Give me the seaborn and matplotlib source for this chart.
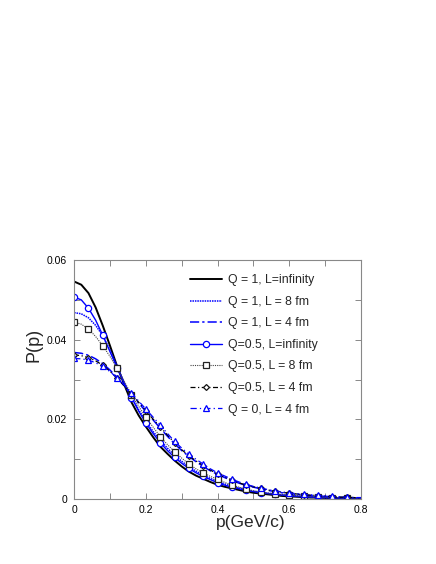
import matplotlib
matplotlib.use("Agg")
import matplotlib.pyplot as plt
import seaborn as sns
import pandas as pd
from matplotlib.ticker import MultipleLocator

# momentum grid (GeV/c)
p = [0.00, 0.02, 0.04, 0.06, 0.08, 0.10, 0.12, 0.14, 0.16, 0.18,
     0.20, 0.22, 0.24, 0.26, 0.28, 0.30, 0.32, 0.34, 0.36, 0.38,
     0.40, 0.42, 0.44, 0.46, 0.48, 0.50, 0.52, 0.54, 0.56, 0.58,
     0.60, 0.62, 0.64, 0.66, 0.68, 0.70, 0.72, 0.74, 0.76, 0.78, 0.80]

q1_inf = [0.0546, 0.0538, 0.0517, 0.0481, 0.0435, 0.0385, 0.0333, 0.0287, 0.0243, 0.0210,
          0.0182, 0.0156, 0.0132, 0.0114, 0.0097, 0.0082, 0.0069, 0.0059, 0.0051, 0.0043,
          0.0036, 0.0031, 0.0027, 0.0023, 0.0019, 0.0016, 0.0014, 0.0012, 0.0010, 0.0008,
          0.0007, 0.0006, 0.0005, 0.0004, 0.0004, 0.0003, 0.0003, 0.0002, 0.0002, 0.0001, 0.0001]
q1_8 = [0.0468, 0.0465, 0.0455, 0.0436, 0.0410, 0.0374, 0.0333, 0.0292, 0.0255, 0.0224,
        0.0196, 0.0170, 0.0148, 0.0128, 0.0110, 0.0095, 0.0081, 0.0070, 0.0060, 0.0052,
        0.0044, 0.0038, 0.0032, 0.0028, 0.0024, 0.0020, 0.0017, 0.0015, 0.0013, 0.0011,
        0.0009, 0.0008, 0.0007, 0.0006, 0.0005, 0.0004, 0.0004, 0.0003, 0.0003, 0.0002, 0.0002]
q1_4 = [0.0368, 0.0366, 0.0361, 0.0352, 0.0340, 0.0324, 0.0305, 0.0284, 0.0262, 0.0241,
        0.0220, 0.0199, 0.0178, 0.0158, 0.0139, 0.0122, 0.0107, 0.0094, 0.0082, 0.0071,
        0.0062, 0.0054, 0.0047, 0.0040, 0.0034, 0.0030, 0.0026, 0.0022, 0.0019, 0.0016,
        0.0014, 0.0012, 0.0011, 0.0009, 0.0008, 0.0007, 0.0006, 0.0005, 0.0004, 0.0003, 0.0003]
q05_inf = [0.0507, 0.0500, 0.0479, 0.0449, 0.0411, 0.0370, 0.0329, 0.0290, 0.0255, 0.0221,
           0.0191, 0.0165, 0.0142, 0.0122, 0.0105, 0.0090, 0.0077, 0.0066, 0.0057, 0.0049,
           0.0041, 0.0035, 0.0030, 0.0026, 0.0022, 0.0019, 0.0016, 0.0014, 0.0012, 0.0010,
           0.0009, 0.0007, 0.0006, 0.0005, 0.0005, 0.0004, 0.0003, 0.0003, 0.0002, 0.0002, 0.0001]
q05_8 = [0.0444, 0.0439, 0.0427, 0.0408, 0.0385, 0.0358, 0.0328, 0.0295, 0.0262, 0.0233,
         0.0206, 0.0181, 0.0157, 0.0137, 0.0119, 0.0103, 0.0088, 0.0076, 0.0066, 0.0057,
         0.0050, 0.0042, 0.0035, 0.0030, 0.0025, 0.0021, 0.0018, 0.0015, 0.0013, 0.0011,
         0.0010, 0.0008, 0.0007, 0.0006, 0.0005, 0.0005, 0.0004, 0.0003, 0.0003, 0.0002, 0.0002]
q05_4 = [0.0362, 0.0360, 0.0355, 0.0347, 0.0336, 0.0321, 0.0303, 0.0284, 0.0263, 0.0243,
         0.0222, 0.0201, 0.0181, 0.0161, 0.0141, 0.0124, 0.0109, 0.0096, 0.0084, 0.0073,
         0.0063, 0.0055, 0.0048, 0.0041, 0.0035, 0.0031, 0.0027, 0.0023, 0.0020, 0.0017,
         0.0015, 0.0013, 0.0011, 0.0010, 0.0009, 0.0008, 0.0006, 0.0005, 0.0005, 0.0004, 0.0003]
q0_4 = [0.0353, 0.0352, 0.0349, 0.0342, 0.0333, 0.0320, 0.0304, 0.0286, 0.0266, 0.0246,
        0.0226, 0.0206, 0.0186, 0.0165, 0.0145, 0.0128, 0.0113, 0.0100, 0.0088, 0.0076,
        0.0066, 0.0058, 0.0050, 0.0043, 0.0037, 0.0032, 0.0028, 0.0024, 0.0021, 0.0018,
        0.0016, 0.0014, 0.0012, 0.0011, 0.0010, 0.0008, 0.0007, 0.0006, 0.0005, 0.0004, 0.0004]

labels = ["Q = 1, L=infinity", "Q = 1, L = 8 fm", "Q = 1, L = 4 fm",
          "Q=0.5, L=infinity", "Q=0.5, L = 8 fm", "Q=0.5, L = 4 fm", "Q = 0, L = 4 fm"]

sns.set_style("ticks")
plt.rcParams['font.family'] = ['Liberation Sans', 'DejaVu Sans']

fig = plt.figure(figsize=(4.36, 5.64), dpi=100)
ax = fig.add_axes([0.170, 0.115, 0.658, 0.424])

# (data, color, linestyle, lw, marker, markersize, marker edge color)
styles = [
    (q1_inf, 'black', '-', 1.4, None, 0, None),
    (q1_8, 'blue', (0, (1, 0.6)), 1.1, None, 0, None),
    (q1_4, 'blue', (0, (6, 2, 1.5, 2)), 1.1, None, 0, None),
    (q05_inf, 'blue', '-', 1.0, 'o', 4.5, 'blue'),
    (q05_8, '#444444', (0, (1, 1)), 0.8, 's', 4.2, '#222222'),
    (q05_4, 'black', (0, (4, 2, 1, 2)), 0.9, 'D', 3.0, '#111111'),
    (q0_4, 'blue', (0, (5, 2.5, 1, 2.5)), 0.9, '^', 4.5, 'blue'),
]

for (vals, col, ls, lw, mk, ms, mec), lab in zip(styles, labels):
    df = pd.DataFrame({"p": p, "P": vals})
    kw = dict(color=col, linestyle=ls, linewidth=lw, label=lab)
    if mk is not None:
        # markers every 0.04 GeV/c, up to 0.76
        kw.update(marker=mk, markersize=ms, markeredgecolor=mec,
                  markerfacecolor='white', markeredgewidth=0.9,
                  markevery=slice(0, 40, 2))
    sns.lineplot(data=df, x="p", y="P", ax=ax, **kw)

ax.set_xlim(0, 0.8)
ax.set_ylim(0, 0.06)
ax.xaxis.set_major_locator(MultipleLocator(0.2))
ax.xaxis.set_minor_locator(MultipleLocator(0.1))
ax.yaxis.set_major_locator(MultipleLocator(0.02))
ax.yaxis.set_minor_locator(MultipleLocator(0.01))
ax.xaxis.set_major_formatter(plt.FuncFormatter(lambda v, _: "0" if v == 0 else f"{v:g}"))
ax.yaxis.set_major_formatter(plt.FuncFormatter(lambda v, _: "0" if v == 0 else f"{v:.2f}"))

for s in ax.spines.values():
    s.set_color('#888888')
    s.set_linewidth(0.8)
ax.tick_params(which='both', direction='in', top=True, right=True,
               length=4, width=0.7, color='#888888', labelsize=7.5, labelcolor='black')
ax.tick_params(axis='y', pad=5)
ax.tick_params(axis='x', pad=4)

ax.set_xlabel("p(GeV/c)", fontsize=12.5)
ax.set_ylabel("P(p)", fontsize=13)
ax.xaxis.set_label_coords(0.616, -0.066)
ax.yaxis.set_label_coords(-0.109, 0.644)

ax.legend(loc='upper left', bbox_to_anchor=(0.404, 0.94), frameon=False,
          fontsize=8.8, handlelength=2.6, handletextpad=0.5,
          labelspacing=0.78, borderpad=0, borderaxespad=0)

fig.savefig("out.png", dpi=100)
